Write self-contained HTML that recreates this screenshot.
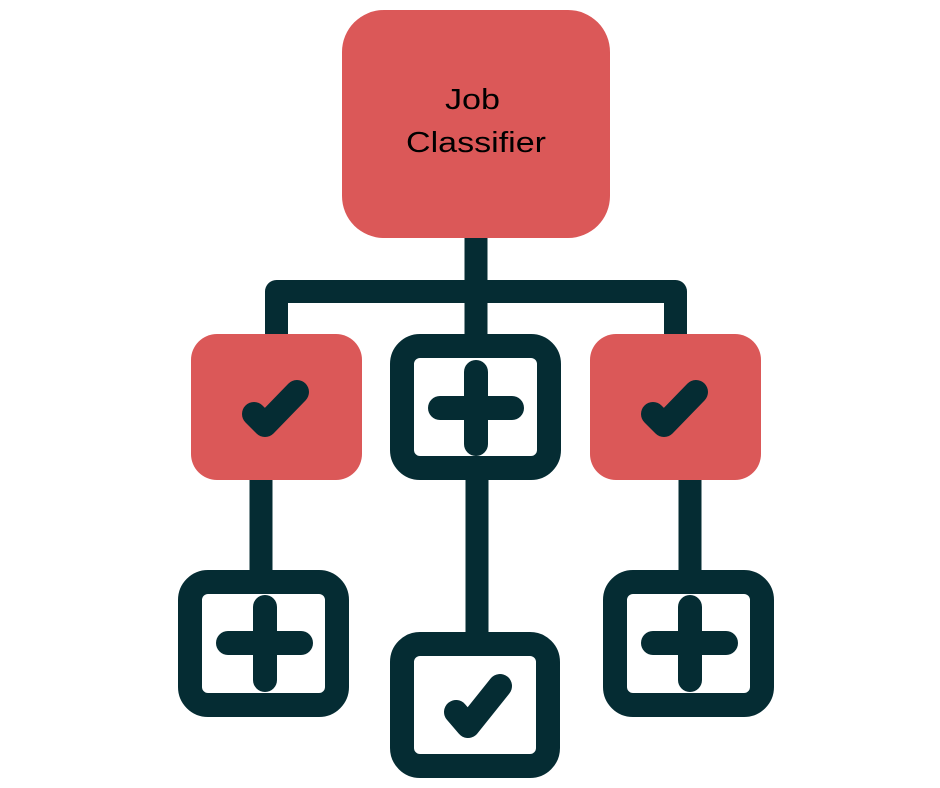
<!DOCTYPE html>
<html><head><style>html,body{margin:0;padding:0;background:#fff;}svg{display:block}</style></head>
<body>
<svg width="940" height="788" viewBox="0 0 940 788" xmlns="http://www.w3.org/2000/svg">
<g fill="none" stroke="#052C33" stroke-width="23">
  <line x1="476" y1="236" x2="476" y2="340"/>
  <path d="M276.5 340 V291.5 H675.5 V340" stroke-linejoin="round"/>
  <line x1="261" y1="478" x2="261" y2="575"/>
  <line x1="477" y1="478" x2="477" y2="636"/>
  <line x1="690" y1="478" x2="690" y2="575"/>
</g>
<rect x="342" y="10" width="268" height="228" rx="42" fill="#DB5858"/>
<text x="445" y="109" font-family="Liberation Sans, sans-serif" font-size="29" textLength="55" lengthAdjust="spacingAndGlyphs" fill="#000">Job</text>
<text x="406" y="152" font-family="Liberation Sans, sans-serif" font-size="29" textLength="140" lengthAdjust="spacingAndGlyphs" fill="#000">Classifier</text>

<rect x="191" y="334" width="171" height="146" rx="26" fill="#DB5858"/>
<rect x="590" y="334" width="171" height="146" rx="26" fill="#DB5858"/>

<g fill="#fff" stroke="#052C33" stroke-width="24">
  <rect x="402" y="346" width="147" height="122" rx="18"/>
  <rect x="190" y="582" width="147" height="123" rx="18"/>
  <rect x="402" y="644" width="146" height="122" rx="18"/>
  <rect x="615" y="582" width="147" height="123" rx="18"/>
</g>

<g fill="none" stroke="#052C33" stroke-width="24" stroke-linecap="round" stroke-linejoin="round">
  <path d="M440 408 H512 M476 372 V444"/>
  <path d="M228 643 H301 M265 607 V680"/>
  <path d="M653 643 H726 M690 607 V680"/>
  <path d="M254 414 L265 425 L297 392"/>
  <path d="M653 414 L664 425 L696 392"/>
  <path d="M456 712 L468 726 L500 686"/>
</g>
</svg>
</body></html>
